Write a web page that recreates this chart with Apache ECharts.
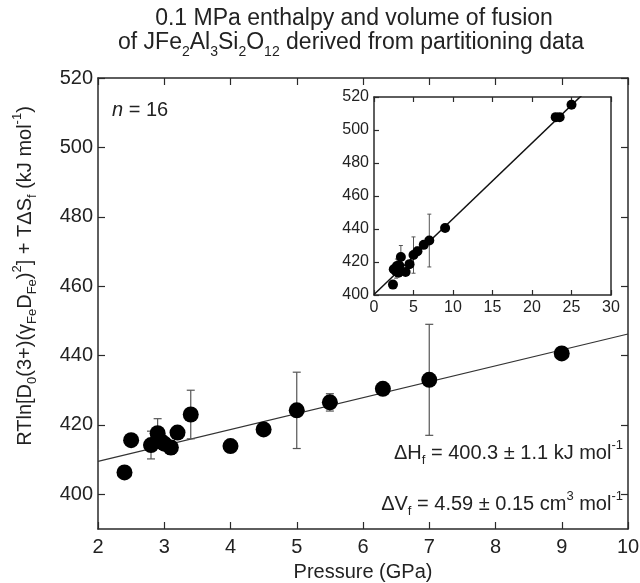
<!DOCTYPE html>
<html><head><meta charset="utf-8">
<script src="https://cdn.jsdelivr.net/npm/echarts@6/dist/echarts.min.js"></script>
<style>html,body{margin:0;padding:0;background:#fff}#c{width:640px;height:583px}</style>
</head><body><div id="c"></div>
<script>
// ---- data ----
const pressure = [2.4, 2.5, 2.8, 2.9, 2.95, 3.0, 3.1, 3.2, 3.4, 4.0, 4.5, 5.0, 5.5, 6.3, 7.0, 9.0];
const enthalpyTerm = [406.3, 415.6, 414.2, 417.6, 415.3, 414.6, 413.5, 417.8, 423.0, 413.9, 418.7, 424.2, 426.5, 430.4, 433.0, 440.6];
const errorBars = [0, 0, 4, 4.2, 0, 0, 2, 0, 7, 0, 0, 11, 2.5, 0, 16, 0];
const insetExtraPressure = [23.0, 23.5, 25.0];
const insetExtraValue = [507.8, 507.8, 515.3];
const dHf = 400.3;   // kJ/mol, intercept of fit
const dVf = 4.59;    // cm3/mol = kJ/mol/GPa, slope of fit
const mainXTicks = [2, 3, 4, 5, 6, 7, 8, 9, 10];
const mainYTicks = [400, 420, 440, 460, 480, 500, 520];
const insetXTicks = [0, 5, 10, 15, 20, 25, 30];
const insetYTicks = [400, 420, 440, 460, 480, 500, 520];

const FONT = 'Liberation Sans, Arial, Helvetica, sans-serif';
const AX = '#2a2a2a';

const mainPts = pressure.map((p, i) => [p, enthalpyTerm[i]]);
const mainErr = pressure.map((p, i) => [p, enthalpyTerm[i], errorBars[i]]).filter(d => d[2] > 0);
const insetPts = mainPts.concat(insetExtraPressure.map((p, i) => [p, insetExtraValue[i]]));
const fitMain = [mainXTicks[0], mainXTicks[mainXTicks.length - 1]].map(p => [p, dHf + dVf * p]);
const fitInset = [insetXTicks[0], insetXTicks[insetXTicks.length - 1]].map(p => [p, dHf + dVf * p]);

function errRender(cap, lw) {
  return function (params, api) {
    const x = api.value(0), y = api.value(1), e = api.value(2);
    const t = api.coord([x, y + e]), b = api.coord([x, y - e]);
    const st = { stroke: '#555', lineWidth: lw };
    return { type: 'group', children: [
      { type: 'line', shape: { x1: t[0], y1: t[1], x2: b[0], y2: b[1] }, style: st },
      { type: 'line', shape: { x1: t[0] - cap, y1: t[1], x2: t[0] + cap, y2: t[1] }, style: st },
      { type: 'line', shape: { x1: b[0] - cap, y1: b[1], x2: b[0] + cap, y2: b[1] }, style: st }
    ]};
  };
}

function axisBase(extra) {
  return Object.assign({
    type: 'value',
    splitLine: { show: false },
    axisLine: { show: true, onZero: false, lineStyle: { color: AX, width: 1.5 } },
    axisTick: { show: true, inside: true, length: 7, lineStyle: { color: AX, width: 1.2 } },
    axisLabel: { show: true, color: '#222', fontSize: 20, fontFamily: FONT, margin: 6 }
  }, extra);
}

const rich = {
  n: { fontSize: 20, fontFamily: FONT, lineHeight: 28, fill: '#222' },
  i: { fontSize: 20, fontFamily: FONT, lineHeight: 28, fill: '#222', fontStyle: 'italic' },
  sub: { fontSize: 13, fontFamily: FONT, lineHeight: 12, fill: '#222', verticalAlign: 'bottom' },
  sup: { fontSize: 13, fontFamily: FONT, lineHeight: 12, fill: '#222', verticalAlign: 'top' },
  t: { fontSize: 23, fontFamily: FONT, lineHeight: 32, fill: '#222' },
  ts: { fontSize: 14, fontFamily: FONT, lineHeight: 12, fill: '#222', verticalAlign: 'bottom' }
};

function txt(x, y, text, align, rot) {
  return {
    type: 'text', x: x, y: y, rotation: rot || 0, z: 100,
    style: { text: text, rich: rich, align: align, verticalAlign: 'middle',
             textAlign: align, textVerticalAlign: 'middle', fill: '#222', font: '20px ' + FONT }
  };
}

const chart = echarts.init(document.getElementById('c'), null, { renderer: 'canvas' });
chart.setOption({
  animation: false,
  backgroundColor: '#fff',
  grid: [
    { left: 98, top: 78, right: 12, bottom: 54, outerBoundsMode: 'none', containLabel: false },
    { left: 374, top: 97, width: 237, height: 198, backgroundColor: '#fff', show: true, borderWidth: 0,
      outerBoundsMode: 'none', containLabel: false }
  ],
  xAxis: [
    axisBase({ gridIndex: 0, min: 2, max: 10, interval: 1, position: 'bottom',
      axisLabel: { show: true, color: '#222', fontSize: 20, fontFamily: FONT, margin: 8 },
      name: 'Pressure (GPa)', nameLocation: 'middle', nameGap: 33,
      nameTextStyle: { fontSize: 20, fontFamily: FONT, color: '#222' } }),
    axisBase({ gridIndex: 0, min: 2, max: 10, interval: 1, position: 'top', axisLabel: { show: false } }),
    axisBase({ gridIndex: 1, min: 0, max: 30, interval: 5, position: 'bottom',
      axisTick: { show: true, inside: true, length: 5, lineStyle: { color: AX, width: 1.2 } },
      axisLabel: { color: '#222', fontSize: 16, fontFamily: FONT, margin: 5 } }),
    axisBase({ gridIndex: 1, min: 0, max: 30, interval: 5, position: 'top', axisLabel: { show: false },
      axisTick: { show: true, inside: true, length: 5, lineStyle: { color: AX, width: 1.2 } } })
  ],
  yAxis: [
    axisBase({ gridIndex: 0, min: 390, max: 520, position: 'left',
      axisTick: { show: true, inside: true, length: 7, customValues: mainYTicks, lineStyle: { color: AX, width: 1.2 } },
      axisLabel: { show: true, color: '#222', fontSize: 20, fontFamily: FONT, margin: 5, customValues: mainYTicks } }),
    axisBase({ gridIndex: 0, min: 390, max: 520, position: 'right',
      axisTick: { show: true, inside: true, length: 7, customValues: mainYTicks, lineStyle: { color: AX, width: 1.2 } },
      axisLabel: { show: false } }),
    axisBase({ gridIndex: 1, min: 400, max: 520, interval: 20, position: 'left',
      axisTick: { show: true, inside: true, length: 5, lineStyle: { color: AX, width: 1.2 } },
      axisLabel: { color: '#222', fontSize: 16, fontFamily: FONT, margin: 5 } }),
    axisBase({ gridIndex: 1, min: 400, max: 520, interval: 20, position: 'right',
      axisTick: { show: false }, axisLabel: { show: false } })
  ],
  series: [
    { type: 'line', xAxisIndex: 0, yAxisIndex: 0, data: fitMain, showSymbol: false, symbol: 'none',
      lineStyle: { color: '#333', width: 1.2 }, z: 2 },
    { type: 'custom', xAxisIndex: 0, yAxisIndex: 0, data: mainErr, renderItem: errRender(4, 1.2),
      encode: { x: 0, y: 1 }, z: 3 },
    { type: 'scatter', xAxisIndex: 0, yAxisIndex: 0, data: mainPts, symbol: 'circle', symbolSize: 16,
      itemStyle: { color: '#000', opacity: 1 }, z: 4 },
    { type: 'line', xAxisIndex: 2, yAxisIndex: 2, data: fitInset, showSymbol: false, symbol: 'none', clip: true,
      lineStyle: { color: '#111', width: 1.5 }, z: 12 },
    { type: 'custom', xAxisIndex: 2, yAxisIndex: 2, data: mainErr, renderItem: errRender(2, 1),
      encode: { x: 0, y: 1 }, z: 13 },
    { type: 'scatter', xAxisIndex: 2, yAxisIndex: 2, data: insetPts, symbol: 'circle', symbolSize: 10,
      itemStyle: { color: '#000', opacity: 1 }, z: 14 }
  ],
  graphic: [
    txt(354, 19, '{t|0.1 MPa enthalpy and volume of fusion}', 'center'),
    txt(351, 43, '{t|of JFe}{ts|2}{t|Al}{ts|3}{t|Si}{ts|2}{t|O}{ts|12}{t| derived from partitioning data}', 'center'),
    txt(112, 110, '{i|n}{n| = 16}', 'left'),
    txt(623, 453, '{n|ΔH}{sub|f}{n| = 400.3 ± 1.1 kJ mol}{sup|-1}', 'right'),
    txt(623, 504, '{n|ΔV}{sub|f}{n| = 4.59 ± 0.15 cm}{sup|3}{n| mol}{sup|-1}', 'right'),
    txt(25, 276, '{n|RTln[D}{sub|0}{n|(3+)(γ}{sub|Fe}{n|D}{sub|Fe}{n|)}{sup|2}{n|] + TΔS}{sub|f}{n| (kJ mol}{sup|-1}{n|)}', 'center', Math.PI / 2)
  ]
});
</script></body></html>
